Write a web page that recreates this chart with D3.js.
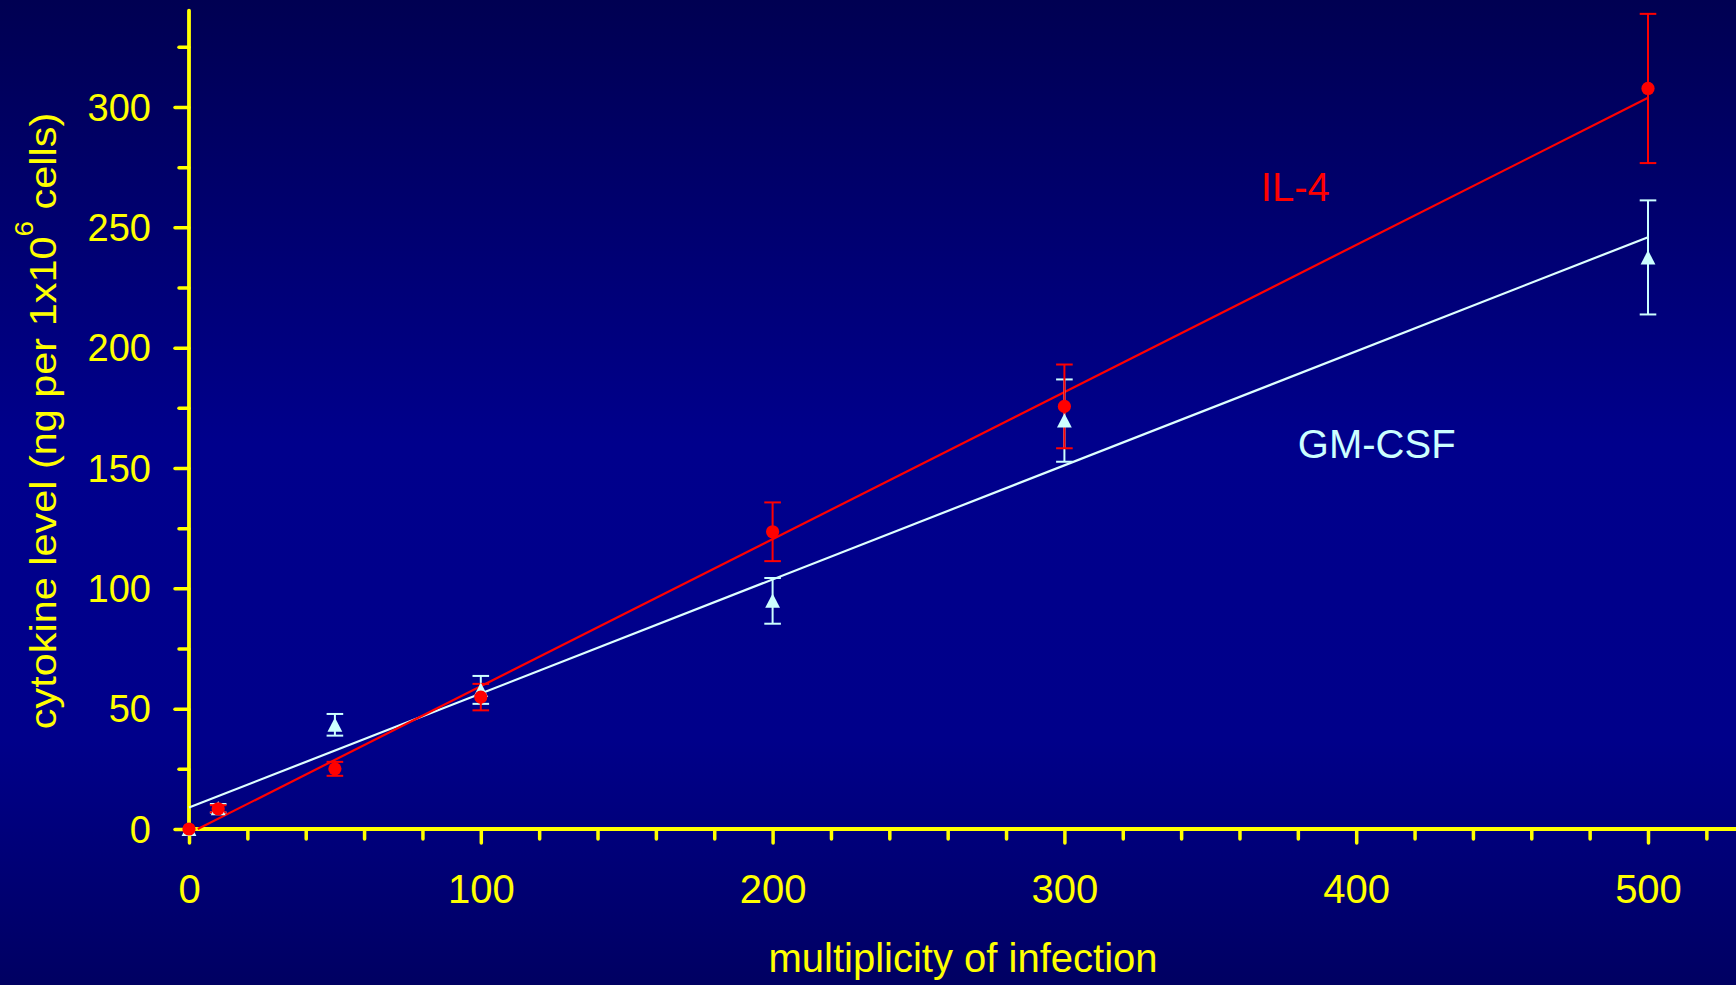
<!DOCTYPE html>
<html>
<head>
<meta charset="utf-8">
<script src="https://cdn.jsdelivr.net/npm/d3@7"></script>
<style>
  html, body { margin: 0; padding: 0; background: #000070; }
  svg { display: block; }
  text { font-family: "Liberation Sans", Arial, Helvetica, sans-serif; }
</style>
</head>
<body>
<svg id="chart" width="1736" height="985"></svg>
<script>
// ---- data ----
const moi = [0, 10, 50, 100, 200, 300, 500];
const il4 = [0, 8.4, 25, 54.8, 123.5, 175.6, 307.7];
const il4Err = [0, 1.5, 2.9, 5.5, 12.2, 17.4, 31];
const gmcsf = [0, 8.6, 43.3, 57.8, 94.8, 169.7, 237.5];
const gmcsfErr = [0, 1.8, 4.5, 5.8, 9.5, 17.1, 23.7];
// fitted regression lines (end points)
const il4FitX = [3, 500];
const il4FitY = [0, 303.8];
const gmFitX = [0, 500];
const gmFitY = [8.9, 245.9];
// ticks
const xMajorTicks = [0, 100, 200, 300, 400, 500];
const xMinorTicks = [20, 40, 60, 80, 120, 140, 160, 180, 220, 240, 260, 280, 320, 340, 360, 380, 420, 440, 460, 480, 520];
const yMajorTicks = [0, 50, 100, 150, 200, 250, 300];
const yMinorTicks = [25, 75, 125, 175, 225, 275, 325];
const xAxisExtent = [0, 531];
const yAxisExtent = [0, 340];
// labels
const xTitle = "multiplicity of infection";
const yTitleMain = "cytokine level (ng per 1x10";
const yTitleSup = "6";
const yTitleEnd = " cells)";
const seriesLabels = [
  { text: "IL-4", x: 367.3, y: 261.1, color: "#ff0000" },
  { text: "GM-CSF", x: 380, y: 154.3, color: "#ccffff" }
];

// ---- drawing ----
const W = 1736, H = 985;
const svg = d3.select("#chart");
const yellow = "#ffff00";
const red = "#ff0000";
const cyan = "#ccffff";
const cyanLine = "#ddffff";

const defs = svg.append("defs");
const grad = defs.append("linearGradient").attr("id", "bg").attr("x1", 0).attr("y1", 0).attr("x2", 0).attr("y2", 1);
grad.append("stop").attr("offset", "0%").attr("stop-color", "#000052");
grad.append("stop").attr("offset", "45%").attr("stop-color", "#00008c");
grad.append("stop").attr("offset", "75%").attr("stop-color", "#00008a");
grad.append("stop").attr("offset", "100%").attr("stop-color", "#000062");
svg.append("rect").attr("width", W).attr("height", H).attr("fill", "url(#bg)");

const x = d3.scaleLinear().domain([0, 500]).range([189, 1648]);
const y = d3.scaleLinear().domain([0, 300]).range([829, 107]);

// axes
const gx = svg.append("g").attr("transform", `translate(0,${y(0)})`);
gx.append("g").call(d3.axisBottom(x).tickValues(xMinorTicks).tickSize(10).tickFormat(""));
gx.append("g").call(d3.axisBottom(x).tickValues(xMajorTicks).tickSize(14).tickFormat(d3.format("d")));
gx.selectAll(".domain").remove();
gx.selectAll("line").attr("stroke", yellow).attr("stroke-width", 3.5).attr("stroke-linecap", "round");
gx.selectAll("text").attr("fill", yellow).attr("font-size", 40).attr("y", 74).attr("dy", 0)
  .attr("font-family", '"Liberation Sans", Arial, sans-serif');

const gy = svg.append("g").attr("transform", `translate(${x(0)},0)`);
gy.append("g").call(d3.axisLeft(y).tickValues(yMinorTicks).tickSize(10).tickFormat(""));
gy.append("g").call(d3.axisLeft(y).tickValues(yMajorTicks).tickSize(14).tickFormat(d3.format("d")));
gy.selectAll(".domain").remove();
gy.selectAll("line").attr("stroke", yellow).attr("stroke-width", 3.5).attr("stroke-linecap", "round");
gy.selectAll("text").attr("fill", yellow).attr("font-size", 38).attr("x", -38).attr("dy", "0.35em")
  .attr("font-family", '"Liberation Sans", Arial, sans-serif');

svg.append("line")
  .attr("x1", x(xAxisExtent[0])).attr("x2", x(xAxisExtent[1]))
  .attr("y1", y(0)).attr("y2", y(0))
  .attr("stroke", yellow).attr("stroke-width", 3.8).attr("stroke-linecap", "round");
svg.append("line")
  .attr("x1", x(0)).attr("x2", x(0))
  .attr("y1", y(yAxisExtent[0])).attr("y2", y(yAxisExtent[1]))
  .attr("stroke", yellow).attr("stroke-width", 3.8).attr("stroke-linecap", "round");

// titles
svg.append("text").attr("x", 963).attr("y", 972).attr("text-anchor", "middle")
  .attr("font-size", 40).attr("fill", yellow).text(xTitle);
const yt = svg.append("text").attr("transform", "translate(56,421) rotate(-90) scale(1.12,1)")
  .attr("text-anchor", "middle").attr("font-size", 37).attr("fill", yellow);
yt.append("tspan").text(yTitleMain);
yt.append("tspan").attr("font-size", 25).attr("dy", -23).text(yTitleSup);
yt.append("tspan").attr("dy", 23).text(yTitleEnd);

// regression lines
const line = d3.line().x(d => x(d[0])).y(d => y(d[1]));
svg.append("path").datum(d3.zip(gmFitX, gmFitY)).attr("d", line)
  .attr("fill", "none").attr("stroke", cyanLine).attr("stroke-width", 2.2);
svg.append("path").datum(d3.zip(il4FitX, il4FitY)).attr("d", line)
  .attr("fill", "none").attr("stroke", red).attr("stroke-width", 2.2);

function errorBars(vals, errs, color) {
  const g = svg.append("g").attr("stroke", color).attr("stroke-width", 2);
  moi.forEach((m, i) => {
    if (!errs[i]) return;
    const cx = x(m), y1 = y(vals[i] + errs[i]), y2 = y(vals[i] - errs[i]);
    g.append("line").attr("x1", cx).attr("x2", cx).attr("y1", y1).attr("y2", y2);
    g.append("line").attr("x1", cx - 8.3).attr("x2", cx + 8.3).attr("y1", y1).attr("y2", y1);
    g.append("line").attr("x1", cx - 8.3).attr("x2", cx + 8.3).attr("y1", y2).attr("y2", y2);
  });
}
errorBars(gmcsf, gmcsfErr, cyan);
errorBars(il4, il4Err, red);

// GM-CSF triangles
svg.append("g").selectAll("path").data(moi).join("path")
  .attr("transform", (d, i) => `translate(${x(d)},${y(gmcsf[i])})`)
  .attr("d", "M0,-7.3L7.4,7L-7.4,7Z")
  .attr("fill", cyan);
// IL-4 circles
svg.append("g").selectAll("circle").data(moi).join("circle")
  .attr("cx", d => x(d)).attr("cy", (d, i) => y(il4[i])).attr("r", 6.6)
  .attr("fill", red);

// series labels
svg.append("g").selectAll("text").data(seriesLabels).join("text")
  .attr("x", d => x(d.x)).attr("y", d => y(d.y))
  .attr("font-size", 40).attr("fill", d => d.color).text(d => d.text);
</script>
</body>
</html>
